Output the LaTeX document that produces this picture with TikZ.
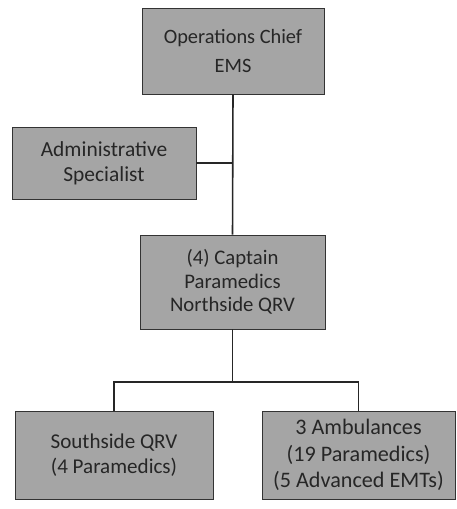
\documentclass[tikz,border=0pt]{standalone}
\usepackage{fontspec}
\setmainfont{Carlito}
\usetikzlibrary{positioning}
\definecolor{boxgray}{RGB}{165,165,165}
\tikzset{
  orgbox/.style={draw=black!80, fill=boxgray, align=center, inner sep=2pt,
    text=black!85},
  link/.style={draw=black!85, line width=0.9pt}
}

\begin{document}
\begin{tikzpicture}[x=0.02cm, y=-0.02cm]
	\useasboundingbox (0,0) rectangle (456,509);

	%Jefe de operaciones
	\node[orgbox, minimum width=3.64cm, minimum height=1.72cm,
	  font=\fontsize{11.6}{17}\selectfont] (chief) at (233,51)
	  {Operations Chief\\EMS};

	%Especialista administrativo
	\node[orgbox, minimum width=3.68cm, minimum height=1.44cm,
	  font=\fontsize{12.2}{14}\selectfont] (admin) at (104,163)
	  {Administrative\\Specialist};

	%Capitanes
	\node[orgbox, minimum width=3.7cm, minimum height=1.88cm,
	  font=\fontsize{11.8}{13.5}\selectfont] (captain) at (232.5,282)
	  {(4) Captain\\Paramedics\\Northside QRV};

	%Nivel inferior
	\node[orgbox, minimum width=3.96cm, minimum height=1.76cm,
	  font=\fontsize{12}{14}\selectfont] (south) at (114,455)
	  {Southside QRV\\(4 Paramedics)};
	\node[orgbox, minimum width=3.86cm, minimum height=1.76cm,
	  font=\fontsize{12.6}{15}\selectfont] (amb) at (358.5,455)
	  {3 Ambulances\\(19 Paramedics)\\(5 Advanced EMTs)};

	%Conectores
	\draw[link] (chief.south) -- (captain.north);
	\draw[link] (admin.east) -- (admin.east -| chief.south);
	\coordinate (split) at (232.5,382);
	\draw[link] (captain.south) -- (split);
	\draw[link] (south.north) |- (split) -| (amb.north);
\end{tikzpicture}
\end{document}
